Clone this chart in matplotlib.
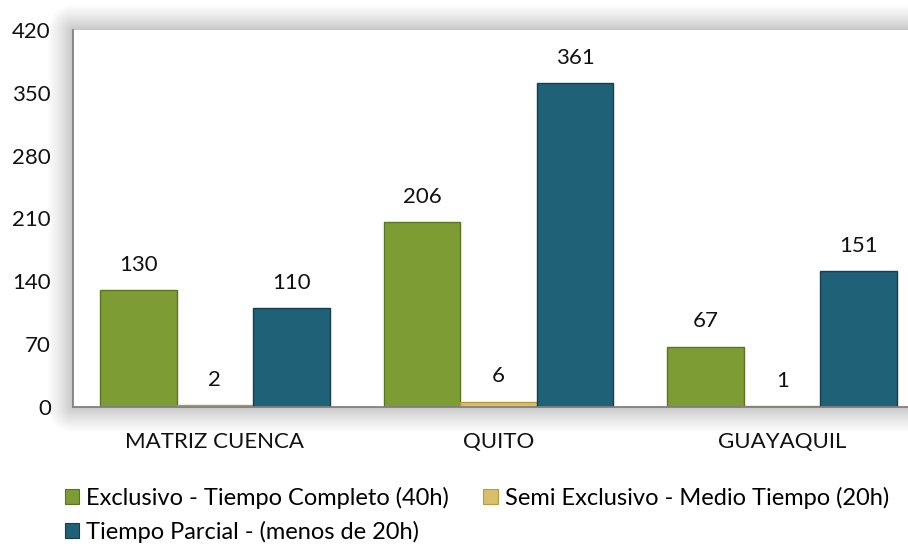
import numpy as np
import matplotlib
matplotlib.use('Agg')
import matplotlib.pyplot as plt
from matplotlib.patches import Patch

plt.rcParams['font.family'] = ['Lato', 'DejaVu Sans']

categorias = ["MATRIZ CUENCA", "QUITO", "GUAYAQUIL"]
series = [
    "Exclusivo - Tiempo Completo (40h)",
    "Semi Exclusivo - Medio Tiempo (20h)",
    "Tiempo Parcial - (menos de 20h)",
]
exclusivo = [130, 206, 67]
semi = [2, 6, 1]
parcial = [110, 361, 151]
yticks = [0, 70, 140, 210, 280, 350, 420]

colores = ['#7D9C33', '#D9BF6B', '#1F6176']
bordes = ['#5A7520', '#B89A45', '#163F4E']

W, H = 908, 554
fig = plt.figure(figsize=(W / 100, H / 100), dpi=100)

# plot area in pixels (left, top, right, bottom) - right edge runs past the image
x0, y0, x1, y1 = 73, 30, 924, 407

# soft drop shadow around the plot area
bg = fig.add_axes([0, 0, 1, 1], zorder=-1)
bg.axis('off')
xx, yy = np.meshgrid(np.arange(W) + 0.5, np.arange(H) + 0.5)
dx = np.maximum(np.maximum(x0 - xx, xx - x1), 0)
dy = np.maximum(np.maximum(y0 - yy, yy - y1), 0)
d = np.sqrt(dx ** 2 + dy ** 2)
shade = 0.77 + 0.23 * np.clip(d / 26.0, 0, 1) ** 0.8
bg.imshow(shade, cmap='gray', vmin=0, vmax=1, extent=[0, W, H, 0], aspect='auto')
bg.set_xlim(0, W)
bg.set_ylim(H, 0)

ax = fig.add_axes([x0 / W, 1 - y1 / H, (x1 - x0) / W, (y1 - y0) / H])
ax.set_facecolor('white')

x = np.arange(len(categorias))
w = 0.27
valores = [exclusivo, semi, parcial]
for i, (vals, col, ed, nom) in enumerate(zip(valores, colores, bordes, series)):
    bars = ax.bar(x + (i - 1) * w, vals, w, color=col, edgecolor=ed,
                  linewidth=1.0, label=nom, zorder=2)
    for b, v in zip(bars, vals):
        ax.annotate(str(v), (b.get_x() + b.get_width() / 2, v),
                    xytext=(0, 14), textcoords='offset points',
                    ha='center', va='baseline', fontsize=16, color='#111111')

ax.set_xlim(-0.5, 2.5)
ax.set_ylim(0, 420)
ax.set_yticks(yticks)
ax.set_xticks(x)
ax.set_xticklabels(categorias)
ax.tick_params(axis='both', length=0, labelsize=16, colors='#111111')
ax.tick_params(axis='y', pad=16)
ax.tick_params(axis='x', pad=18)
for s in ['top', 'right']:
    ax.spines[s].set_visible(False)
for s in ['left', 'bottom']:
    ax.spines[s].set_color('#808080')
    ax.spines[s].set_linewidth(1.3)

handles = [Patch(facecolor=c, edgecolor=e, linewidth=0.8) for c, e in zip(colores, bordes)]
orden = [0, 2, 1]
fig.legend([handles[k] for k in orden], [series[k] for k in orden],
           loc='upper left', bbox_to_anchor=(65 / W, 1 - 487 / H), ncol=2,
           frameon=False, fontsize=17, handlelength=0.6, handleheight=0.6,
           handletextpad=0.3, columnspacing=1.45, labelspacing=0.5,
           borderaxespad=0, borderpad=0)

fig.savefig('out.png', dpi=100)
